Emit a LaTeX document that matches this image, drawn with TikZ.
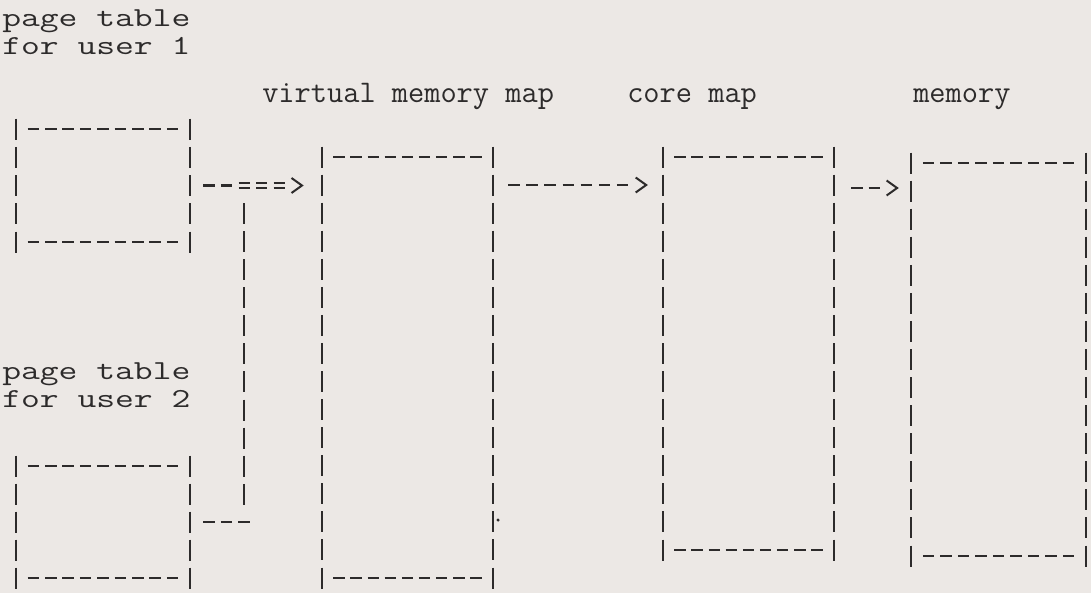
\documentclass[tikz,border=0pt]{standalone}
\usepackage{fontspec}
\usepackage{graphicx}
\usetikzlibrary{calc,fit}
\definecolor{paper}{RGB}{236,232,229}
\definecolor{ink}{RGB}{45,43,43}
\newcommand\wide[1]{\scalebox{1.33}[1]{#1}}
\tikzset{
  glyph/.style={draw=ink, line width=1.7pt, line cap=butt},
  barglyph/.style={draw=ink, line width=1.85pt, line cap=butt},
  pics/hd/.style={code={\draw[glyph] (-5.75,0) -- (5.75,0);}},
  pics/eq/.style={code={\draw[glyph, line width=1.4pt] (-5.5,-2.9) -- (5.5,-2.9) (-5.5,2.9) -- (5.5,2.9);}},
  pics/gt/.style={code={\draw[glyph, line width=1.5pt, line join=miter] (-5,-7.5) -- (5.5,0) -- (-5,7.5);}},
  pics/vb/.style={code={\draw[barglyph] (0,-10.5) -- (0,10.5);}},
  boxnode/.style={inner sep=0pt, outer sep=0pt},
  lab/.style={inner sep=0pt, anchor=base west, text=ink, font=\ttfamily\fontsize{20.6}{24}\selectfont},
  ttl/.style={inner sep=0pt, anchor=base west, text=ink, font=\ttfamily\fontsize{23.6}{28}\selectfont},
}
\newcommand\asciibox[6]{%
  \coordinate (#1-a) at (#2,#4);
  \coordinate (#1-b) at (#3,#5);
  \node[boxnode, fit=(#1-a)(#1-b)] (#1) {};
  \pgfmathsetmacro\boxpitch{(#5-#4)/(#6-1)}%
  \pgfmathtruncatemacro\boxlast{#6-1}%
  \foreach \k in {0,...,\boxlast}{
    \path (#2,{#4+\k*\boxpitch}) pic{vb} (#3,{#4+\k*\boxpitch}) pic{vb};
  }
  \foreach \j in {1,...,9}{
    \path ({#2+(#3-#2)*\j/10},#4) pic{hd} ({#2+(#3-#2)*\j/10},#5) pic{hd};
  }
}
\begin{document}
\begin{tikzpicture}[x=0.75pt, y=-0.75pt]
\fill[paper] (0,0) rectangle (1091,593);
\useasboundingbox (0,0) rectangle (1091,593);

% labels
\node[lab] (pt1a) at (2,26) {\wide{page table}};
\node[lab] (pt1b) at (2,54) {\wide{for user 1}};
\node[lab] (pt2a) at (2,379) {\wide{page table}};
\node[lab] (pt2b) at (2,407) {\wide{for user 2}};
\node[ttl] (tv) at (262,102) {virtual memory map};
\node[ttl] (tc) at (627,102) {core map};
\node[ttl] (tm) at (913,102) {memory};

% boxes
\asciibox{pt1}{16}{190}{129}{242}{5}
\asciibox{pt2}{16}{190}{466}{578}{5}
\asciibox{vmm}{322}{493}{157}{578}{16}
\asciibox{core}{663}{834}{157}{550}{15}
\asciibox{mem}{911}{1086}{163}{556}{15}

% page table 1 -> virtual memory map  "--===>"
\path ($(pt1.east)+(19,0)$) pic{hd} ++(17.5,0) pic{hd} ++(17.5,0) pic{eq}
      ++(17.5,0) pic{eq} ++(17.5,0) pic{eq} ++(17.5,0) pic{gt};

% page table 2 joins: "---" and vertical bars up to the "==="
\path ($(pt2.east)+(19,0)$) pic{hd} ++(17.5,0) pic{hd} ++(17.5,0) pic{hd};
\foreach \k in {1,...,11}{
  \path ($(pt1.east)+(54,\k*28.07)$) pic{vb};
}

% virtual memory map -> core map  "------->"
\path ($(vmm.north east)+(21,28)$) pic{hd} ++(18.1,0) pic{hd} ++(18.1,0) pic{hd}
      ++(18.1,0) pic{hd} ++(18.1,0) pic{hd} ++(18.1,0) pic{hd} ++(18.1,0) pic{hd}
      ++(18.1,0) pic{gt};

% core map -> memory  "-->"
\path ($(core.north east)+(23,31)$) pic{hd} ++(17.3,0) pic{hd} ++(17.3,0) pic{gt};

% stray typed period beside the virtual memory map
\fill[ink] (498,520) circle (1.3pt);
\end{tikzpicture}
\end{document}
